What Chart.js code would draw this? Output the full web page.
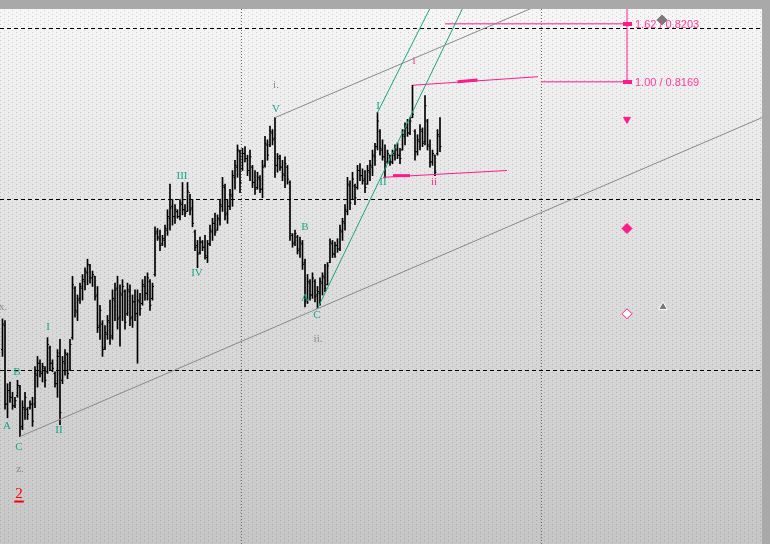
<!DOCTYPE html>
<html>
<head>
<meta charset="utf-8">
<script src="https://cdn.jsdelivr.net/npm/chart.js@4.4.1/dist/chart.umd.min.js"></script>
<style>
  html, body { margin: 0; padding: 0; background: #a9a9a9; }
  canvas { display: block; }
</style>
</head>
<body>
<canvas id="WaveChart" width="770" height="544"></canvas>
<script>
// OHLC bars, one per hour (index = bar number)
const opens = [
  0.8012, 0.8026, 0.7980, 0.7988, 0.7984, 0.7979, 0.7985, 0.7990, 0.7967, 0.7977,
  0.7977, 0.7978, 0.7980, 0.7980, 0.7997, 0.8004, 0.7998, 0.8001, 0.7999, 0.8013,
  0.8004, 0.7998, 0.7992, 0.8010, 0.7994, 0.8004, 0.8009, 0.8000, 0.8019, 0.8048,
  0.8034, 0.8042, 0.8048, 0.8052, 0.8057, 0.8061, 0.8054, 0.8055, 0.8044, 0.8026,
  0.8027, 0.8013, 0.8021, 0.8028, 0.8020, 0.8041, 0.8048, 0.8031, 0.8044, 0.8046,
  0.8033, 0.8046, 0.8031, 0.8040, 0.8033, 0.8040, 0.8039, 0.8049, 0.8045, 0.8052,
  0.8042, 0.8056, 0.8081, 0.8077, 0.8074, 0.8076, 0.8082, 0.8089, 0.8096, 0.8090,
  0.8093, 0.8090, 0.8097, 0.8094, 0.8093, 0.8104, 0.8095, 0.8081, 0.8073, 0.8069,
  0.8075, 0.8072, 0.8066, 0.8074, 0.8081, 0.8086, 0.8082, 0.8088, 0.8096, 0.8107,
  0.8092, 0.8096, 0.8102, 0.8113, 0.8119, 0.8128, 0.8118, 0.8127, 0.8124, 0.8117,
  0.8119, 0.8110, 0.8107, 0.8112, 0.8106, 0.8120, 0.8132, 0.8132, 0.8139, 0.8136,
  0.8120, 0.8124, 0.8119, 0.8114, 0.8119, 0.8110, 0.8079, 0.8075, 0.8078, 0.8071,
  0.8074, 0.8063, 0.8041, 0.8051, 0.8044, 0.8052, 0.8044, 0.8045, 0.8051, 0.8054,
  0.8050, 0.8063, 0.8074, 0.8068, 0.8073, 0.8071, 0.8081, 0.8086, 0.8093, 0.8108,
  0.8100, 0.8108, 0.8107, 0.8117, 0.8114, 0.8112, 0.8109, 0.8116, 0.8119, 0.8125,
  0.8131, 0.8140, 0.8129, 0.8125, 0.8122, 0.8126, 0.8122, 0.8126, 0.8129, 0.8126,
  0.8129, 0.8137, 0.8142, 0.8139, 0.8148, 0.8140, 0.8128, 0.8134, 0.8140, 0.8134,
  0.8146, 0.8131, 0.8122, 0.8126, 0.8127, 0.8137
];
const highs = [
  0.8030, 0.8029, 0.7992, 0.7993, 0.7987, 0.7984, 0.7994, 0.7991, 0.7982, 0.7987,
  0.7978, 0.7982, 0.7984, 0.8002, 0.8008, 0.8006, 0.8004, 0.8002, 0.8019, 0.8014,
  0.8006, 0.7999, 0.8012, 0.8018, 0.8008, 0.8012, 0.8010, 0.8018, 0.8055, 0.8049,
  0.8044, 0.8051, 0.8056, 0.8060, 0.8065, 0.8062, 0.8058, 0.8055, 0.8049, 0.8038,
  0.8029, 0.8026, 0.8032, 0.8041, 0.8047, 0.8051, 0.8055, 0.8050, 0.8053, 0.8047,
  0.8051, 0.8050, 0.8044, 0.8047, 0.8047, 0.8045, 0.8053, 0.8055, 0.8057, 0.8053,
  0.8051, 0.8084, 0.8083, 0.8082, 0.8079, 0.8085, 0.8094, 0.8109, 0.8100, 0.8097,
  0.8094, 0.8100, 0.8110, 0.8097, 0.8110, 0.8103, 0.8100, 0.8082, 0.8076, 0.8078,
  0.8076, 0.8079, 0.8076, 0.8085, 0.8089, 0.8092, 0.8091, 0.8100, 0.8113, 0.8109,
  0.8100, 0.8106, 0.8117, 0.8123, 0.8132, 0.8129, 0.8130, 0.8131, 0.8126, 0.8129,
  0.8120, 0.8117, 0.8116, 0.8114, 0.8123, 0.8137, 0.8135, 0.8143, 0.8141, 0.8148,
  0.8127, 0.8126, 0.8123, 0.8125, 0.8120, 0.8111, 0.8080, 0.8082, 0.8079, 0.8078,
  0.8076, 0.8065, 0.8056, 0.8053, 0.8057, 0.8053, 0.8049, 0.8054, 0.8057, 0.8062,
  0.8063, 0.8077, 0.8076, 0.8075, 0.8077, 0.8085, 0.8089, 0.8097, 0.8113, 0.8111,
  0.8116, 0.8109, 0.8120, 0.8121, 0.8118, 0.8117, 0.8120, 0.8123, 0.8129, 0.8133,
  0.8151, 0.8141, 0.8135, 0.8132, 0.8129, 0.8126, 0.8129, 0.8132, 0.8133, 0.8130,
  0.8141, 0.8145, 0.8147, 0.8148, 0.8167, 0.8141, 0.8138, 0.8144, 0.8142, 0.8161,
  0.8147, 0.8135, 0.8129, 0.8126, 0.8141, 0.8148
];
const lows = [
  0.8008, 0.7977, 0.7972, 0.7981, 0.7977, 0.7978, 0.7984, 0.7961, 0.7965, 0.7971,
  0.7971, 0.7977, 0.7967, 0.7978, 0.7990, 0.7996, 0.7993, 0.7990, 0.7998, 0.8000,
  0.7999, 0.7990, 0.7984, 0.7968, 0.7992, 0.7997, 0.7995, 0.8000, 0.8018, 0.8031,
  0.8029, 0.8039, 0.8041, 0.8047, 0.8050, 0.8051, 0.8049, 0.8041, 0.8022, 0.8018,
  0.8008, 0.8012, 0.8018, 0.8015, 0.8018, 0.8029, 0.8024, 0.8014, 0.8029, 0.8024,
  0.8032, 0.8026, 0.8025, 0.8029, 0.8004, 0.8032, 0.8038, 0.8041, 0.8041, 0.8035,
  0.8041, 0.8055, 0.8076, 0.8070, 0.8073, 0.8072, 0.8079, 0.8082, 0.8085, 0.8086,
  0.8089, 0.8088, 0.8091, 0.8090, 0.8093, 0.8091, 0.8084, 0.8070, 0.8060, 0.8068,
  0.8070, 0.8065, 0.8063, 0.8073, 0.8076, 0.8079, 0.8082, 0.8085, 0.8093, 0.8088,
  0.8086, 0.8094, 0.8096, 0.8106, 0.8113, 0.8104, 0.8117, 0.8122, 0.8114, 0.8111,
  0.8107, 0.8103, 0.8106, 0.8104, 0.8101, 0.8119, 0.8123, 0.8131, 0.8132, 0.8113,
  0.8116, 0.8117, 0.8111, 0.8107, 0.8109, 0.8076, 0.8072, 0.8073, 0.8068, 0.8066,
  0.8059, 0.8037, 0.8039, 0.8041, 0.8042, 0.8040, 0.8036, 0.8038, 0.8044, 0.8046,
  0.8050, 0.8063, 0.8066, 0.8066, 0.8069, 0.8070, 0.8076, 0.8082, 0.8091, 0.8094,
  0.8100, 0.8097, 0.8106, 0.8111, 0.8109, 0.8104, 0.8109, 0.8111, 0.8114, 0.8120,
  0.8129, 0.8126, 0.8123, 0.8113, 0.8121, 0.8120, 0.8121, 0.8123, 0.8124, 0.8121,
  0.8129, 0.8132, 0.8137, 0.8138, 0.8148, 0.8123, 0.8126, 0.8129, 0.8131, 0.8132,
  0.8129, 0.8119, 0.8120, 0.8114, 0.8126, 0.8128
];
const closes = [
  0.8027, 0.7980, 0.7988, 0.7984, 0.7979, 0.7982, 0.7991, 0.7966, 0.7978, 0.7984,
  0.7974, 0.7980, 0.7970, 0.7998, 0.8004, 0.7999, 0.8002, 0.7994, 0.8015, 0.8004,
  0.8001, 0.7992, 0.8008, 0.7975, 0.8005, 0.8010, 0.7998, 0.8015, 0.8050, 0.8035,
  0.8041, 0.8049, 0.8053, 0.8058, 0.8062, 0.8054, 0.8056, 0.8043, 0.8025, 0.8035,
  0.8012, 0.8022, 0.8029, 0.8019, 0.8042, 0.8047, 0.8030, 0.8045, 0.8049, 0.8028,
  0.8047, 0.8030, 0.8040, 0.8033, 0.8041, 0.8036, 0.8050, 0.8045, 0.8054, 0.8038,
  0.8049, 0.8080, 0.8078, 0.8073, 0.8077, 0.8083, 0.8090, 0.8095, 0.8090, 0.8094,
  0.8090, 0.8098, 0.8094, 0.8092, 0.8105, 0.8094, 0.8086, 0.8072, 0.8068, 0.8075,
  0.8072, 0.8067, 0.8074, 0.8082, 0.8086, 0.8081, 0.8089, 0.8097, 0.8108, 0.8091,
  0.8096, 0.8103, 0.8114, 0.8120, 0.8129, 0.8110, 0.8127, 0.8124, 0.8117, 0.8125,
  0.8110, 0.8106, 0.8113, 0.8106, 0.8119, 0.8133, 0.8126, 0.8140, 0.8135, 0.8120,
  0.8125, 0.8119, 0.8115, 0.8121, 0.8112, 0.8080, 0.8074, 0.8080, 0.8070, 0.8075,
  0.8062, 0.8040, 0.8052, 0.8044, 0.8054, 0.8043, 0.8046, 0.8052, 0.8055, 0.8048,
  0.8061, 0.8075, 0.8068, 0.8073, 0.8071, 0.8082, 0.8087, 0.8094, 0.8109, 0.8098,
  0.8112, 0.8101, 0.8117, 0.8114, 0.8111, 0.8107, 0.8117, 0.8120, 0.8126, 0.8131,
  0.8146, 0.8130, 0.8125, 0.8119, 0.8127, 0.8122, 0.8127, 0.8130, 0.8126, 0.8124,
  0.8138, 0.8143, 0.8139, 0.8146, 0.8150, 0.8128, 0.8135, 0.8141, 0.8133, 0.8155,
  0.8132, 0.8122, 0.8127, 0.8116, 0.8138, 0.8131
];

// price grid and weekly separators (bar numbers)
const priceGrid = [0.80, 0.81, 0.82];
const weekSeparators = [95.8, 215.4];

// wave count labels
const waveText   = ['x.', 'A', 'B', 'C', 'z.', '2', 'I', 'II', 'III', 'IV', 'i.', 'V', 'B', 'A', 'C', 'ii.', 'I', 'II', 'i', 'ii'];
const waveX      = [0.2, 1.8, 5.8, 6.6, 7.0, 6.6, 18.2, 22.6, 71.8, 77.8, 109.4, 109.4, 121, 121, 125.8, 126.2, 150.2, 152.2, 164.6, 172.6];
const waveY      = [0.8037, 0.7967, 0.7999, 0.7955, 0.7942, 0.7927, 0.8025, 0.7965, 0.8114, 0.8057, 0.8167, 0.8153, 0.8084, 0.8042, 0.8032, 0.8018, 0.8155, 0.8110, 0.8181, 0.8110];
const waveDegree = ['minor', 'minute', 'minute', 'minute', 'minor', 'major', 'minute', 'minute', 'minute', 'minute', 'minor', 'minute', 'minute', 'minute', 'minute', 'minor', 'minute', 'minute', 'sub', 'sub'];

// trend channel and wave lines [bar, price]
const channelLow  = [[7, 0.7961], [303.8, 0.8148]];
const channelHigh = [[109, 0.8148], [213, 0.8213]];
const impulseBase = [[126, 0.8036], [184, 0.8212]];
const impulseTop  = [[150, 0.8151], [173, 0.8218]];
const subTopLine  = [[164.2, 0.8167], [214.2, 0.8172]];
const subTopMark  = [[182, 0.8169], [190, 0.8170]];
const subLowLine  = [[152.2, 0.8113], [201.8, 0.8117]];
const subLowMark  = [[156.2, 0.8114], [163, 0.8114]];

// fibonacci projection
const fibRatios = ['1.62', '1.00'];
const fibLevels = [0.8203, 0.8169];
const fibStarts = [177, 215.4];
const fibBar = 249.8;

// signal markers [bar, price]
const sellSignal = [[249.8, 0.8147]];
const targetHit = [[249.8, 0.8083]];
const targetOpen = [[249.8, 0.8033]];
const buySignal = [[264.2, 0.8037]];
const topSignal = [[263.8, 0.82053]];

const PINK = '#ff1a8c';

function toPoints(pairs) {
    return pairs.map(p => ({ x: p[0], y: p[1] }));
}

function lineSet(pairs, color, width) {
    return {
        type: 'line',
        data: toPoints(pairs),
        borderColor: color,
        borderWidth: width,
        pointRadius: 0,
        order: 0
    };
}

function markerSet(pairs, style, fill, edge, radius, rotation) {
    return {
        type: 'line',
        data: toPoints(pairs),
        showLine: false,
        pointStyle: style,
        pointRadius: radius,
        pointRotation: rotation || 0,
        pointBackgroundColor: fill,
        pointBorderColor: edge,
        pointBorderWidth: 1,
        order: 0
    };
}

function dotPattern(ctx) {
    let c = document.createElement('canvas');
    c.width = 8;
    c.height = 4;
    let p = c.getContext('2d');
    p.fillStyle = 'rgba(0,0,0,0.16)';
    p.fillRect(0, 0, 1, 1);
    p.fillRect(4, 2, 1, 1);
    return ctx.createPattern(c, 'repeat');
}

// small pink box used on the fib levels
let fibBox = document.createElement('canvas');
fibBox.width = 9;
fibBox.height = 4;
fibBox.getContext('2d').fillStyle = PINK;
fibBox.getContext('2d').fillRect(0, 0, 9, 4);

const degreeColors = { minute: '#17a589', minor: '#8a8a8a', sub: '#ff2b8f', major: '#ff0000' };
const degreeFonts = {
    minute: '11px "Liberation Serif"',
    minor: '11px "Liberation Serif"',
    sub: '11px "Liberation Serif"',
    major: '15px "Liberation Serif"'
};

const backdropPlugin = {
    id: 'backdrop',
    beforeDraw(chart) {
        const { ctx, chartArea: a } = chart;
        let g = ctx.createLinearGradient(0, a.top, 0, a.bottom);
        g.addColorStop(0, '#f6f6f6');
        g.addColorStop(0.45, '#e0e0e0');
        g.addColorStop(1, '#c6c6c6');
        ctx.save();
        ctx.fillStyle = g;
        ctx.fillRect(a.left, a.top, a.right - a.left, a.bottom - a.top);
        ctx.fillStyle = dotPattern(ctx);
        ctx.fillRect(a.left, a.top, a.right - a.left, a.bottom - a.top);
        ctx.restore();
    }
};

const labelPlugin = {
    id: 'waveLabels',
    afterDatasetsDraw(chart) {
        const { ctx, scales: { x, y } } = chart;
        ctx.save();
        ctx.textAlign = 'center';
        ctx.textBaseline = 'middle';
        for (let i = 0; i < waveText.length; i++) {
            let px = x.getPixelForValue(waveX[i]);
            let py = y.getPixelForValue(waveY[i]);
            ctx.fillStyle = degreeColors[waveDegree[i]];
            ctx.font = degreeFonts[waveDegree[i]];
            ctx.fillText(waveText[i], px, py);
            if (waveDegree[i] === 'major') {
                let w = ctx.measureText(waveText[i]).width;
                ctx.fillRect(px - w / 2 - 1, py + 6, w + 2, 2);
            }
        }
        // fib level captions
        ctx.textAlign = 'left';
        ctx.font = '11px "Liberation Sans"';
        ctx.fillStyle = '#ff3d9a';
        for (let i = 0; i < fibLevels.length; i++) {
            ctx.fillText(fibRatios[i] + ' / ' + fibLevels[i].toFixed(4),
                x.getPixelForValue(fibBar) + 8, y.getPixelForValue(fibLevels[i]) + 1);
        }
        ctx.restore();
    }
};

function DrawWaveChart() {
    let datasets = [];

    datasets.push(lineSet(channelLow, '#8a8a8a', 1));
    datasets.push(lineSet(channelHigh, '#8a8a8a', 1));
    datasets.push(lineSet(impulseBase, '#19a67c', 1));
    datasets.push(lineSet(impulseTop, '#19a67c', 1));
    datasets.push(lineSet(subTopLine, PINK, 1));
    datasets.push(lineSet(subTopMark, PINK, 3));
    datasets.push(lineSet(subLowLine, PINK, 1));
    datasets.push(lineSet(subLowMark, PINK, 3));

    for (let i = 0; i < fibLevels.length; i++) {
        datasets.push(lineSet([[fibStarts[i], fibLevels[i]], [fibBar, fibLevels[i]]], PINK, 1));
    }
    datasets.push(lineSet([[fibBar, fibLevels[1]], [fibBar, 0.8225]], PINK, 1));
    datasets.push(markerSet(fibLevels.map(v => [fibBar, v]), fibBox, PINK, PINK, 4));

    datasets.push(markerSet(sellSignal, 'triangle', PINK, PINK, 4, 180));
    datasets.push(markerSet(targetHit, 'rectRot', PINK, PINK, 5));
    datasets.push(markerSet(targetOpen, 'rectRot', '#ffffff', PINK, 5));
    datasets.push(markerSet(buySignal, 'triangle', '#787878', '#ffffff', 5));
    datasets.push(markerSet(topSignal, 'rectRot', '#7a7a7a', '#7a7a7a', 5));

    // high-low range of every bar
    datasets.push({
        type: 'bar',
        data: highs.map((h, i) => ({ x: i, y: [lows[i], h] })),
        backgroundColor: '#000000',
        borderWidth: 0,
        barThickness: 1,
        grouped: false,
        order: 1
    });
    // open tick to the left, close tick to the right
    datasets.push({
        type: 'line',
        data: opens.map((v, i) => ({ x: i, y: v })),
        showLine: false,
        pointStyle: 'dash',
        pointRotation: 180,
        pointRadius: 1.5,
        pointBorderColor: '#000000',
        pointBorderWidth: 1,
        order: 1
    });
    datasets.push({
        type: 'line',
        data: closes.map((v, i) => ({ x: i, y: v })),
        showLine: false,
        pointStyle: 'dash',
        pointRadius: 1.5,
        pointBorderColor: '#000000',
        pointBorderWidth: 1,
        order: 1
    });

    const config = {
        type: 'line',
        data: { datasets: datasets },
        options: {
            responsive: false,
            animation: false,
            devicePixelRatio: 1,
            events: [],
            layout: { autoPadding: false, padding: { top: 9, right: 8, left: 0, bottom: 0 } },
            plugins: {
                legend: { display: false },
                tooltip: { enabled: false }
            },
            scales: {
                x: {
                    type: 'linear',
                    min: -1,
                    max: 303.8,
                    offset: false,
                    afterBuildTicks: axis => { axis.ticks = weekSeparators.map(v => ({ value: v })); },
                    afterFit: axis => { axis.height = 0; },
                    ticks: { display: false },
                    grid: { color: '#6a6a6a', drawTicks: false, offset: false },
                    border: { display: false, dash: [1, 2] }
                },
                y: {
                    min: 0.7898,
                    max: 0.82117,
                    afterBuildTicks: axis => { axis.ticks = priceGrid.map(v => ({ value: v })); },
                    afterFit: axis => { axis.width = 0; },
                    ticks: { display: false },
                    grid: { color: '#000000', drawTicks: false },
                    border: { display: false, dash: [4, 3] }
                }
            }
        },
        plugins: [backdropPlugin, labelPlugin]
    };

    new Chart(document.getElementById('WaveChart'), config);
}

DrawWaveChart();
</script>
</body>
</html>
